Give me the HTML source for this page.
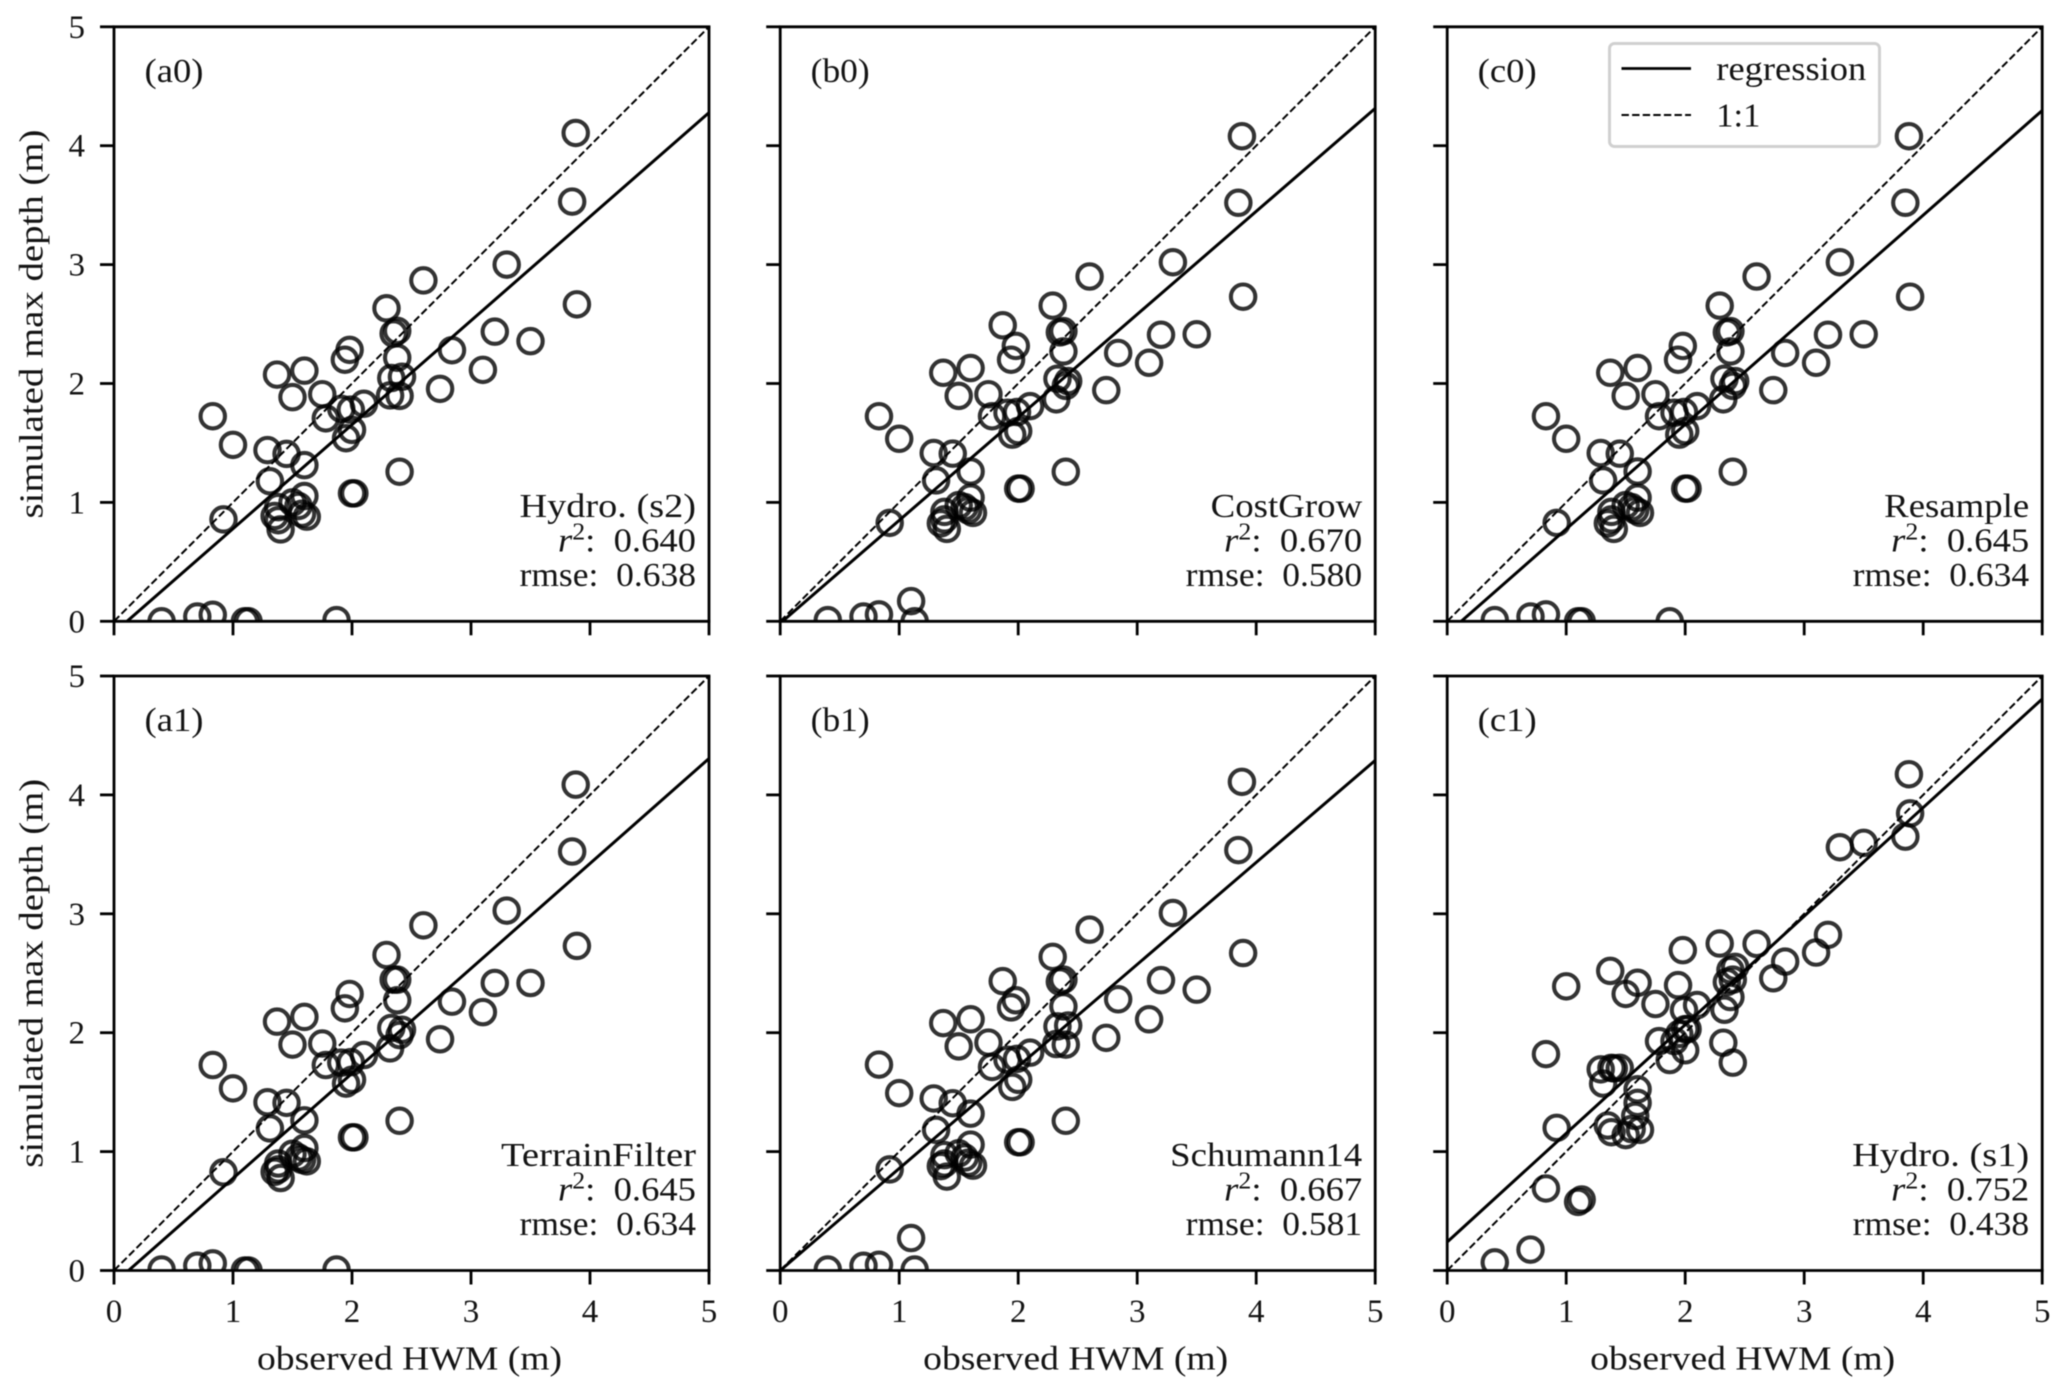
<!DOCTYPE html>
<html lang="en">
<head>
<meta charset="utf-8">
<title>Simulated max depth vs observed HWM</title>
<style>
  html, body { margin: 0; padding: 0; background: #fff; }
  #chart { display: block; width: 2067px; height: 1397px; font-family: "Liberation Serif", serif; filter: blur(0.5px); }
  #chart text { fill: #141414; }
</style>
</head>
<body>
<svg id="chart" xmlns="http://www.w3.org/2000/svg" width="2067" height="1397" viewBox="0 0 2067 1397"></svg>
<script>
// ---- chart data ----
const xTickLabels = [0, 1, 2, 3, 4, 5];
const yTickLabels = [0, 1, 2, 3, 4, 5];
const panelIds = ['a0', 'b0', 'c0', 'a1', 'b1', 'c1'];
const panelLetters = ['(a0)', '(b0)', '(c0)', '(a1)', '(b1)', '(c1)'];
const methodNames = ['Hydro. (s2)', 'CostGrow', 'Resample', 'TerrainFilter', 'Schumann14', 'Hydro. (s1)'];
const r2Values = ['0.640', '0.670', '0.645', '0.645', '0.667', '0.752'];
const rmseValues = ['0.638', '0.580', '0.634', '0.634', '0.581', '0.438'];
const observedHwm = [3.88,3.85,3.89,3.30,2.60,2.29,2.38,2.35,2.38,3.20,3.50,2.84,3.10,2.74,1.98,1.94,1.60,1.37,1.50,1.75,1.78,1.91,1.99,2.10,2.32,2.40,2.33,2.42,0.83,1.00,1.29,1.45,1.60,1.31,1.95,2.00,2.40,2.00,2.02,0.92,1.60,1.50,1.55,1.38,1.35,1.38,1.40,1.58,1.62,0.40,0.70,0.83,1.10,1.13,1.87];
const depthA0 = [4.107,3.53,2.666,3.00,2.867,2.633,2.443,2.42,2.217,2.436,2.356,2.28,2.115,1.955,2.283,2.2,2.108,2.075,1.885,1.91,1.707,1.787,1.78,1.83,1.90,1.896,2.046,2.057,1.725,1.484,1.44,1.408,1.313,1.178,1.54,1.61,1.258,1.076,1.076,0.857,1.054,1.0,0.97,0.96,0.886,0.85,0.773,0.905,0.88,0,0.04,0.055,0,0,0.01];
const depthB0 = [4.08,3.52,2.73,3.02,2.90,2.655,2.44,2.43,2.27,2.41,2.414,2.257,2.174,1.944,2.316,2.2,2.13,2.09,1.896,1.91,1.725,1.754,1.76,1.81,1.867,1.98,2.04,2.02,1.725,1.535,1.415,1.41,1.26,1.185,1.57,1.6,1.258,1.116,1.116,0.828,1.04,0.977,0.96,0.92,0.824,0.857,0.777,0.934,0.912,0.01,0.04,0.058,0.17,0,2.49];
const depthC0 = [4.08,3.52,2.73,3.02,2.90,2.655,2.44,2.43,2.27,2.41,2.414,2.257,2.174,1.944,2.316,2.2,2.13,2.09,1.896,1.91,1.725,1.754,1.76,1.81,1.867,1.98,2.04,2.02,1.725,1.535,1.415,1.41,1.26,1.185,1.57,1.6,1.258,1.116,1.116,0.828,1.04,0.977,0.96,0.92,0.824,0.857,0.777,0.934,0.912,0.01,0.04,0.058,0,0,0];
const depthA1 = [4.086,3.524,2.73,3.027,2.903,2.654,2.446,2.446,2.273,2.418,2.418,2.261,2.173,1.945,2.326,2.205,2.133,2.093,1.90,1.909,1.728,1.748,1.752,1.812,1.868,1.98,2.04,2.025,1.728,1.532,1.415,1.41,1.263,1.195,1.572,1.604,1.259,1.12,1.12,0.826,1.03,0.982,0.95,0.90,0.83,0.85,0.778,0.93,0.918,0.008,0.04,0.06,0,0,0.008];
const depthB1 = [4.11,3.536,2.67,3.007,2.867,2.638,2.446,2.43,2.221,2.442,2.362,2.281,2.113,1.957,2.273,2.213,2.113,2.081,1.885,1.917,1.712,1.772,1.78,1.832,1.905,1.90,2.053,2.061,1.732,1.492,1.447,1.407,1.319,1.183,1.544,1.604,1.259,1.079,1.079,0.85,1.059,0.986,0.95,0.97,0.878,0.90,0.79,0.906,0.882,0.008,0.04,0.048,0.273,0.008,2.434];
const depthC1 = [4.174,3.649,3.845,3.56,2.747,2.75,2.526,2.426,2.30,2.823,3.597,2.598,2.674,2.458,2.694,2.40,2.42,2.52,2.326,2.241,1.929,1.93,2.19,2.233,1.916,1.748,2.193,2.554,1.82,2.39,1.692,1.704,1.41,1.572,1.99,1.852,2.446,2.03,2.03,1.2,1.524,1.139,1.19,1.704,1.22,1.163,1.70,1.30,1.183,0.068,0.176,0.69,0.577,0.597,1.77];
const panelDepths = [depthA0, depthB0, depthC0, depthA1, depthB1, depthC1];
// regression line value at observed = 0 and observed = 5
const regressionAtZero = [-0.096, -0.017, -0.104, -0.108, 0.0, 0.24];
const regressionAtFive = [4.278, 4.314, 4.296, 4.306, 4.29, 4.807];
const oneToOne = [0, 5];
const legendLabels = ['regression', '1:1'];

// ---- layout constants ----
const colLeft = [114, 780.2, 1447.2];
const rowTop = [26.8, 676];
const axisSize = { w: 595, h: 594.5 };
const domainMax = 5;
const FONT = 34;
const TICK_FONT = 33;
const methodTextWidth = [176.5, 151.5, 145, 195, 192, 177];

const svg = document.getElementById('chart');
const NS = 'http://www.w3.org/2000/svg';

function scaleX(left, v) { return left + (v / domainMax) * axisSize.w; }
function scaleY(top, v) { return top + axisSize.h - (v / domainMax) * axisSize.h; }

function addLine(parent, x1, y1, x2, y2, stroke, sw, name) {
  const el = document.createElementNS(NS, 'line');
  el.setAttribute('x1', x1);
  el.setAttribute('y1', y1);
  el.setAttribute('x2', x2);
  el.setAttribute('y2', y2);
  el.setAttribute('stroke', stroke);
  el.setAttribute('stroke-width', sw);
  
  
  parent.appendChild(el);
  return el;
}

function addText(parent, str, x, y, size, width, name) {
  const el = document.createElementNS(NS, 'text');
  el.setAttribute('x', x);
  el.setAttribute('y', y);
  el.setAttribute('font-size', size);
  el.textContent = str;
  if (width) {
    el.setAttribute('textLength', width);
    el.setAttribute('lengthAdjust', 'spacingAndGlyphs');
  }
  
  
  parent.appendChild(el);
  return el;
}

function drawPanel(i) {
  const col = i % 3;
  const row = Math.floor(i / 3);
  const left = colLeft[col];
  const top = rowTop[row];
  const right = left + axisSize.w;
  const bottom = top + axisSize.h;

  const g = document.createElementNS(NS, 'g');
  
  
  svg.appendChild(g);

  const clip = document.createElementNS(NS, 'clipPath');
  clip.setAttribute('id', 'clip-' + panelIds[i]);
  const clipRect = document.createElementNS(NS, 'rect');
  clipRect.setAttribute('x', left);
  clipRect.setAttribute('y', top);
  clipRect.setAttribute('width', axisSize.w);
  clipRect.setAttribute('height', axisSize.h);
  clip.appendChild(clipRect);
  g.appendChild(clip);

  const plot = document.createElementNS(NS, 'g');
  plot.setAttribute('clip-path', 'url(#clip-' + panelIds[i] + ')');
  
  
  g.appendChild(plot);

  // points
  const depths = panelDepths[i];
  observedHwm.forEach(function (obs, k) {
    const c = document.createElementNS(NS, 'circle');
    c.setAttribute('cx', scaleX(left, obs));
    c.setAttribute('cy', scaleY(top, depths[k]));
    c.setAttribute('r', 12.2);
    c.setAttribute('fill', 'none');
    c.setAttribute('stroke', '#000');
    c.setAttribute('stroke-opacity', '0.8');
    c.setAttribute('stroke-width', 4.1);
    
    
    plot.appendChild(c);
  });

  // 1:1 line
  const dashed = addLine(plot, scaleX(left, oneToOne[0]), scaleY(top, oneToOne[0]), scaleX(left, oneToOne[1]), scaleY(top, oneToOne[1]), '#000', 2, 'one-to-one-line');
  dashed.setAttribute('stroke-dasharray', '7.4 3.2');

  // regression line
  addLine(plot, scaleX(left, 0), scaleY(top, regressionAtZero[i]), scaleX(left, domainMax), scaleY(top, regressionAtFive[i]), '#000', 3, 'regression-line');

  // ticks
  xTickLabels.forEach(function (t) {
    const x = scaleX(left, t);
    addLine(g, x, bottom, x, bottom + 14, '#000', 2.8, 'x-tick');
    if (row === 1) {
      const lab = addText(g, String(t), x, 1322, TICK_FONT, 0, 'x-tick-label');
      lab.setAttribute('text-anchor', 'middle');
    }
  });
  yTickLabels.forEach(function (t) {
    const y = scaleY(top, t);
    addLine(g, left - 14, y, left, y, '#000', 2.8, 'y-tick');
    if (col === 0) {
      const lab = addText(g, String(t), 85, y + 11, TICK_FONT, 0, 'y-tick-label');
      lab.setAttribute('text-anchor', 'end');
    }
  });

  // spines
  addLine(g, left - 1.4, top, right + 1.4, top, '#000', 2.8, 'top-spine');
  addLine(g, left - 1.4, bottom, right + 1.4, bottom, '#000', 2.8, 'bottom-spine');
  addLine(g, left, top, left, bottom, '#000', 2.8, 'left-spine');
  addLine(g, right, top, right, bottom, '#000', 2.8, 'right-spine');

  // panel letter
  addText(g, panelLetters[i], left + 30.5, top + 55, FONT, 59, 'panel-letter');

  // annotation
  const textRight = right - 13;
  const nameW = methodTextWidth[i];
  addText(g, methodNames[i], textRight - nameW, bottom - 104.5, FONT, nameW, 'method-name');

  const r2 = document.createElementNS(NS, 'text');
  r2.setAttribute('x', textRight - 138);
  r2.setAttribute('y', bottom - 70);
  r2.setAttribute('font-size', FONT);
  r2.setAttribute('textLength', 138);
  r2.setAttribute('lengthAdjust', 'spacingAndGlyphs');
  
  
  const rPart = document.createElementNS(NS, 'tspan');
  rPart.setAttribute('font-style', 'italic');
  rPart.textContent = 'r';
  const supPart = document.createElementNS(NS, 'tspan');
  supPart.setAttribute('dy', -12);
  supPart.setAttribute('font-size', 24);
  supPart.textContent = '2';
  const valPart = document.createElementNS(NS, 'tspan');
  valPart.setAttribute('dy', 12);
  valPart.textContent = ':\u2002' + r2Values[i];
  r2.appendChild(rPart);
  r2.appendChild(supPart);
  r2.appendChild(valPart);
  g.appendChild(r2);

  addText(g, 'rmse:\u2002' + rmseValues[i], textRight - 176.5, bottom - 35.5, FONT, 176.5, 'rmse-value');

  // axis titles
  if (row === 1) {
    addText(g, 'observed HWM (m)', left + axisSize.w / 2 - 154.5, 1369.4, FONT, 305, 'x-axis-title');
  }
  if (col === 0) {
    const cy = top + axisSize.h / 2;
    const yt = addText(g, 'simulated max depth (m)', 42.6, cy + 194.5, FONT, 389, 'y-axis-title');
    yt.setAttribute('transform', 'rotate(-90 42.6 ' + (cy + 194.5) + ')');
  }
}

function drawLegend() {
  const g = document.createElementNS(NS, 'g');
  
  
  svg.appendChild(g);

  const box = document.createElementNS(NS, 'rect');
  box.setAttribute('x', 1609.5);
  box.setAttribute('y', 43.5);
  box.setAttribute('width', 270);
  box.setAttribute('height', 103);
  box.setAttribute('rx', 5);
  box.setAttribute('fill', '#fff');
  box.setAttribute('fill-opacity', '0.85');
  box.setAttribute('stroke', '#d0d0d0');
  box.setAttribute('stroke-width', 3);
  
  
  g.appendChild(box);

  addLine(g, 1621.5, 68.5, 1691, 68.5, '#000', 2.8, 'legend-regression-swatch');
  addText(g, legendLabels[0], 1716.3, 80, FONT, 150, 'legend-regression-label');
  const d = addLine(g, 1621.5, 115, 1691, 115, '#000', 2, 'legend-one-to-one-swatch');
  d.setAttribute('stroke-dasharray', '7.4 3.2');
  addText(g, legendLabels[1], 1716.3, 126.6, FONT, 44, 'legend-one-to-one-label');
}

panelIds.forEach(function (id, i) { drawPanel(i); });
drawLegend();
</script>
</body>
</html>
